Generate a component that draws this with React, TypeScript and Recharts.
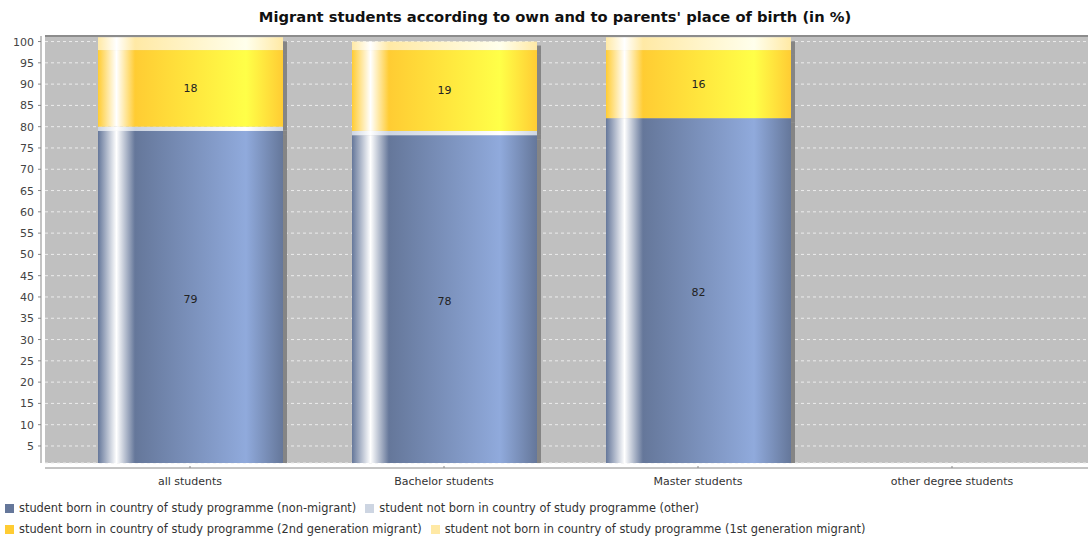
import { Bar, BarChart, CartesianGrid, LabelList, ReferenceLine, XAxis, YAxis } from "recharts";

const categories = ["all students", "Bachelor students", "Master students", "other degree students"];
const nonMigrant = [79, 78, 82, null];
const otherBorn = [1, 1, 0, null];
const secondGen = [18, 19, 16, null];
const firstGen = [3, 2, 3, null];
const yTicks = [5, 10, 15, 20, 25, 30, 35, 40, 45, 50, 55, 60, 65, 70, 75, 80, 85, 90, 95, 100];
const Y_DOMAIN = [1, 101.3];

const FONT = "'DejaVu Sans', sans-serif";

const SERIES = [
  { key: "nonMigrant", name: "student born in country of study programme (non-migrant)", base: "#65779a", bright: "#90aadc" },
  { key: "otherBorn", name: "student not born in country of study programme (other)", base: "#cdd5e2", bright: "#ffffff" },
  { key: "secondGen", name: "student born in country of study programme (2nd generation migrant)", base: "#ffcc33", bright: "#ffff48" },
  { key: "firstGen", name: "student not born in country of study programme (1st generation migrant)", base: "#ffe9a5", bright: "#ffffec" },
];

const rows = categories.map((category, i) => ({
  category,
  nonMigrant: nonMigrant[i],
  otherBorn: otherBorn[i],
  secondGen: secondGen[i],
  firstGen: firstGen[i],
}));

// JFreeChart-style gradient bar: base -> white -> base -> brighter -> base, plus a right-hand shadow strip
function makeShape(key: string, base: string, bright: string) {
  return (props: any) => {
    const { x, y, width, height } = props;
    if (!height || height <= 0) return <g />;
    const id = `grad-${key}`;
    return (
      <g>
        <defs>
          <linearGradient id={id} x1="0" x2="1" y1="0" y2="0">
            <stop offset="0" stopColor={base} />
            <stop offset="0.1" stopColor="#ffffff" />
            <stop offset="0.2" stopColor={base} />
            <stop offset="0.8" stopColor={bright} />
            <stop offset="1" stopColor={base} />
          </linearGradient>
        </defs>
        <rect x={x + width} y={y + 4} width={4} height={height} fill="#858585" />
        <rect x={x} y={y} width={width} height={height} fill={`url(#${id})`} />
      </g>
    );
  };
}

function YTick({ x, y, payload }: any) {
  return (
    <g>
      <line x1={x - 7} x2={x - 4} y1={y} y2={y} stroke="#888" />
      <text x={x - 11} y={y} dy={4} textAnchor="end" fontSize={11} fontFamily={FONT} fill="#444">
        {payload.value}
      </text>
    </g>
  );
}

function XTick({ x, y, payload }: any) {
  return (
    <g>
      <line x1={x} x2={x} y1={y + 3} y2={y + 5} stroke="#888" />
      <text x={x} y={y + 22} textAnchor="middle" fontSize={11} fontFamily={FONT} fill="#333">
        {payload.value}
      </text>
    </g>
  );
}

const showBig = (v: any) => (typeof v === "number" && v >= 5 ? v : "");

export default function App() {
  return (
    <div style={{ position: "absolute", left: 0, top: 0, width: 1088, height: 538, background: "#fff", fontFamily: FONT, overflow: "hidden" }}>
      <div style={{ position: "absolute", left: 0, top: 8, width: 1110, textAlign: "center", fontSize: 14.7, fontWeight: "bold", color: "#111" }}>
        Migrant students according to own and to parents' place of birth (in %)
      </div>
      <BarChart width={1088} height={538} data={rows} margin={{ top: 36, right: 0, bottom: 45, left: 0 }} barCategoryGap={0}>
        <CartesianGrid vertical={false} fill="#c0c0c0" stroke="#ececec" strokeDasharray="3 3" />
        <XAxis
          dataKey="category"
          height={30}
          padding={{ left: 18, right: 9 }}
          tickSize={0}
          tickMargin={0}
          tick={<XTick />}
          axisLine={{ stroke: "#888", transform: "translate(0,5)" }}
          tickLine={false}
          interval={0}
        />
        {/* plot frame edge, sits right against the plot */}
        <YAxis yAxisId="frame" width={0} domain={Y_DOMAIN} allowDataOverflow tick={false} tickLine={false} axisLine={{ stroke: "#8c8c8c" }} />
        <YAxis
          width={45}
          domain={Y_DOMAIN}
          allowDataOverflow
          ticks={yTicks}
          tickSize={0}
          tickMargin={0}
          tick={<YTick />}
          axisLine={{ stroke: "#888", transform: "translate(-4,0)" }}
          tickLine={false}
          interval={0}
        />
        <ReferenceLine y={Y_DOMAIN[1]} stroke="#8c8c8c" strokeWidth={2} />
        {SERIES.map((s, i) => (
          <Bar
            key={s.key}
            dataKey={s.key}
            name={s.name}
            stackId="a"
            barSize={185}
            isAnimationActive={false}
            shape={makeShape(s.key, s.base, s.bright)}
          >
            <LabelList
              dataKey={s.key}
              position="center"
              formatter={showBig}
              fontSize={11}
              fontFamily={FONT}
              fill="#222"
              dy={i === 0 ? 2 : 0}
            />
          </Bar>
        ))}
      </BarChart>
      <div style={{ position: "absolute", left: 5, top: 498, fontSize: 11.4, color: "#333", lineHeight: "21px" }}>
        {[SERIES.slice(0, 2), SERIES.slice(2, 4)].map((row, r) => (
          <div key={r} style={{ display: "flex", alignItems: "center", whiteSpace: "nowrap" }}>
            {row.map((s) => (
              <span key={s.key} style={{ display: "inline-flex", alignItems: "center", marginRight: 9 }}>
                <span style={{ display: "inline-block", width: 9, height: 9, background: s.base, marginRight: 5 }} />
                {s.name}
              </span>
            ))}
          </div>
        ))}
      </div>
    </div>
  );
}
